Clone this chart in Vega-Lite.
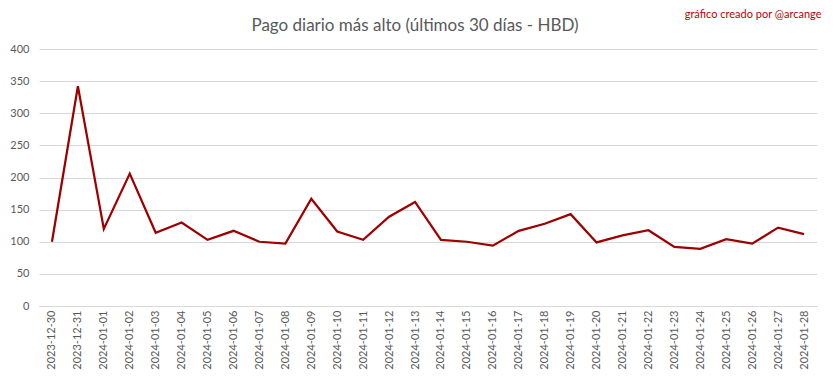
{
  "$schema": "https://vega.github.io/schema/vega-lite/v6.json",
  "width": 778,
  "height": 257,
  "autosize": "none",
  "padding": {"left": 39, "top": 49, "right": 16, "bottom": 73},
  "background": "white",
  "title": {
    "text": "Pago diario más alto (últimos 30 días - HBD)",
    "anchor": "middle",
    "dx": -13,
    "offset": -27,
    "font": "Lato",
    "fontSize": 17,
    "fontWeight": "normal",
    "color": "#595959"
  },
  "data": {
    "values": [
      {"fecha": "2023-12-30", "valor": 100},
      {"fecha": "2023-12-31", "valor": 342},
      {"fecha": "2024-01-01", "valor": 120},
      {"fecha": "2024-01-02", "valor": 206},
      {"fecha": "2024-01-03", "valor": 114},
      {"fecha": "2024-01-04", "valor": 130},
      {"fecha": "2024-01-05", "valor": 103},
      {"fecha": "2024-01-06", "valor": 117},
      {"fecha": "2024-01-07", "valor": 100},
      {"fecha": "2024-01-08", "valor": 97},
      {"fecha": "2024-01-09", "valor": 167},
      {"fecha": "2024-01-10", "valor": 116},
      {"fecha": "2024-01-11", "valor": 103},
      {"fecha": "2024-01-12", "valor": 139},
      {"fecha": "2024-01-13", "valor": 162},
      {"fecha": "2024-01-14", "valor": 103},
      {"fecha": "2024-01-15", "valor": 100},
      {"fecha": "2024-01-16", "valor": 94},
      {"fecha": "2024-01-17", "valor": 117},
      {"fecha": "2024-01-18", "valor": 128},
      {"fecha": "2024-01-19", "valor": 143},
      {"fecha": "2024-01-20", "valor": 99},
      {"fecha": "2024-01-21", "valor": 110},
      {"fecha": "2024-01-22", "valor": 118},
      {"fecha": "2024-01-23", "valor": 92},
      {"fecha": "2024-01-24", "valor": 89},
      {"fecha": "2024-01-25", "valor": 104},
      {"fecha": "2024-01-26", "valor": 97},
      {"fecha": "2024-01-27", "valor": 122},
      {"fecha": "2024-01-28", "valor": 112}
    ]
  },
  "layer": [
    {
      "mark": {"type": "line", "color": "#9e0000", "strokeWidth": 2.25, "strokeJoin": "miter"},
      "encoding": {
        "x": {
          "field": "fecha",
          "type": "ordinal",
          "sort": null,
          "scale": {"type": "point", "padding": 0.5},
          "axis": {
            "title": null,
            "labelAngle": -90,
            "labelAlign": "right",
            "labelBaseline": "middle",
            "labelPadding": 4,
            "labelFont": "Lato",
            "labelFontSize": 11,
            "labelColor": "#595959",
            "ticks": false,
            "domainColor": "#d9d9d9",
            "domainWidth": 1,
            "grid": false
          }
        },
        "y": {
          "field": "valor",
          "type": "quantitative",
          "scale": {"domain": [0, 400], "nice": false},
          "axis": {
            "title": null,
            "values": [0, 50, 100, 150, 200, 250, 300, 350, 400],
            "labelFont": "Lato",
            "labelFontSize": 11,
            "labelColor": "#595959",
            "labelPadding": 10,
            "labelOverlap": false,
            "ticks": false,
            "domain": false,
            "gridColor": "#d9d9d9",
            "gridWidth": 1
          }
        }
      }
    },
    {
      "mark": {"type": "line", "opacity": 0},
      "encoding": {
        "x": {
          "field": "fecha",
          "type": "ordinal",
          "sort": null,
          "axis": {
            "orient": "top",
            "title": "gráfico creado por @arcange",
            "titleFont": "Lato",
            "titleFontSize": 11,
            "titleFontWeight": "normal",
            "titleColor": "#c00000",
            "titleAnchor": "end",
            "titleAlign": "right",
            "titleBaseline": "bottom",
            "titleX": 782,
            "titleY": -30,
            "labels": false,
            "ticks": false,
            "domain": false,
            "grid": false
          }
        },
        "y": {"field": "valor", "type": "quantitative", "axis": null}
      }
    }
  ],
  "resolve": {"axis": {"x": "independent", "y": "independent"}},
  "config": {"view": {"stroke": null}}
}
